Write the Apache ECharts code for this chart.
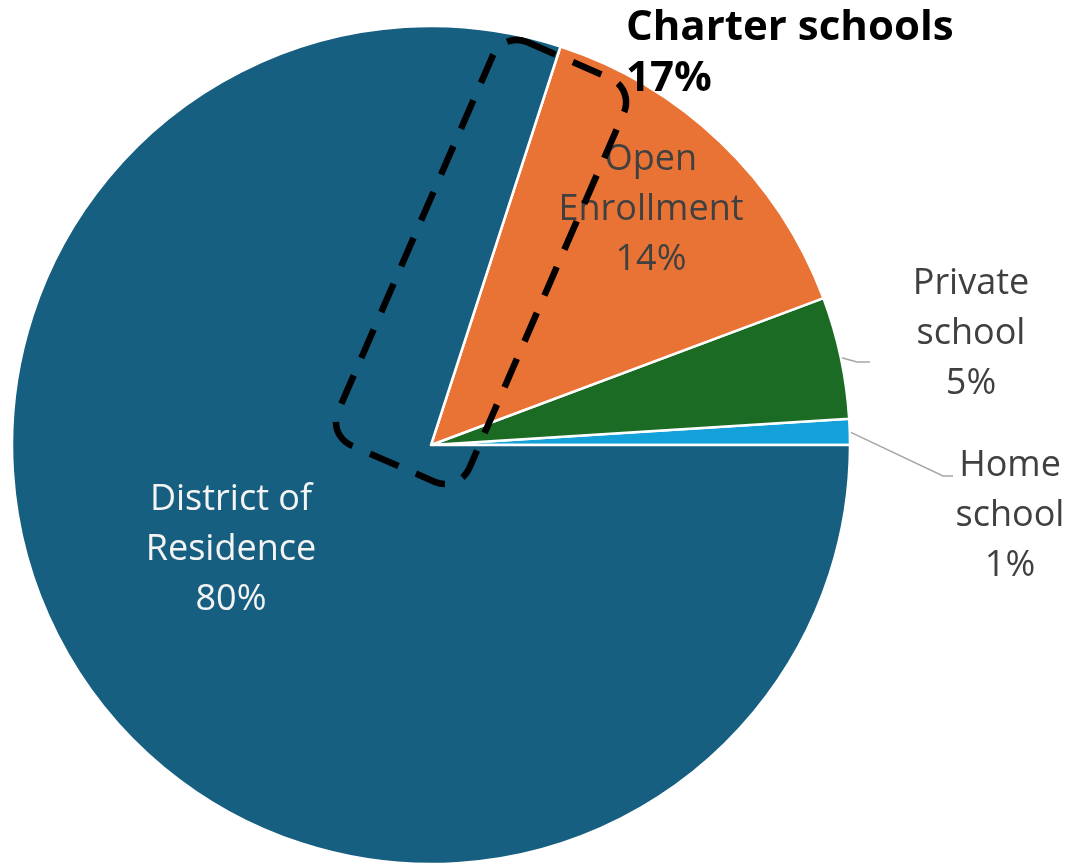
<!DOCTYPE html>
<html>
<head>
<meta charset="utf-8">
<script src="https://cdn.jsdelivr.net/npm/echarts@6/dist/echarts.min.js"></script>
<style>
  html, body { margin: 0; padding: 0; background: #ffffff; }
  #chart { width: 1071px; height: 864px; }
</style>
</head>
<body>
<div id="chart"></div>
<script>
// ---- data ----
const categories = ['Home\nschool', 'Private\nschool', 'Open\nEnrollment', 'District of\nResidence'];
const shares = [1.0, 4.7, 14.3, 80.0];
const sliceColors = ['#14A0D8', '#1C6B24', '#E97334', '#175F80'];
const annotationLines = ['Charter schools', '17%'];

// label placement (label centre positions and leader-line elbows)
const labelSpots = [
  { x: 1010, y: 516, elbow: [943, 476], end: [953, 476] },
  { x: 971, y: 334, elbow: [857, 362], end: [870, 362] },
  { x: 651, y: 210 },
  { x: 231, y: 550 }
];

const chart = echarts.init(document.getElementById('chart'));

const data = categories.map((name, i) => {
  const inside = i >= 2;
  return {
    name: name,
    value: shares[i],
    itemStyle: { color: sliceColors[i] },
    label: {
      position: inside ? 'inside' : 'outside',
      color: i === 3 ? '#F4F4F4' : '#404040'
    },
    labelLine: { show: !inside }
  };
});

const font = '"Open Sans", "Noto Sans", sans-serif';

chart.setOption({
  animation: false,
  backgroundColor: '#ffffff',
  series: [{
    type: 'pie',
    center: [431, 445],
    radius: [0, 419],
    startAngle: 0,
    clockwise: false,
    avoidLabelOverlap: false,
    silent: true,
    data: data,
    itemStyle: { borderColor: '#ffffff', borderWidth: 2.5 },
    label: {
      show: true,
      fontFamily: font,
      fontSize: 36,
      lineHeight: 50,
      align: 'center',
      formatter: p => p.name + '\n' + Math.round(p.percent) + '%'
    },
    labelLine: {
      show: true,
      lineStyle: { color: '#A6A6A6', width: 1.5 }
    },
    labelLayout: function (params) {
      const s = labelSpots[params.dataIndex];
      const out = { x: s.x, y: s.y, align: 'center', verticalAlign: 'middle' };
      if (s.elbow && params.labelLinePoints) {
        out.labelLinePoints = [params.labelLinePoints[0], s.elbow, s.end];
      }
      return out;
    }
  }],
  graphic: [
    {
      type: 'rect',
      x: 481,
      y: 262,
      rotation: -23.5 * Math.PI / 180,
      shape: { x: -71.5, y: -220, width: 143, height: 440, r: 26 },
      style: {
        fill: 'none',
        stroke: '#000000',
        lineWidth: 6.5,
        lineDash: [31, 19]
      },
      z: 100
    },
    {
      type: 'text',
      x: 626,
      y: 3,
      style: {
        text: annotationLines.join('\n'),
        fontFamily: font,
        fontWeight: 'bold',
        fontSize: 42,
        lineHeight: 51,
        fill: '#000000',
        align: 'left',
        verticalAlign: 'top'
      },
      z: 101
    }
  ]
});
</script>
</body>
</html>
